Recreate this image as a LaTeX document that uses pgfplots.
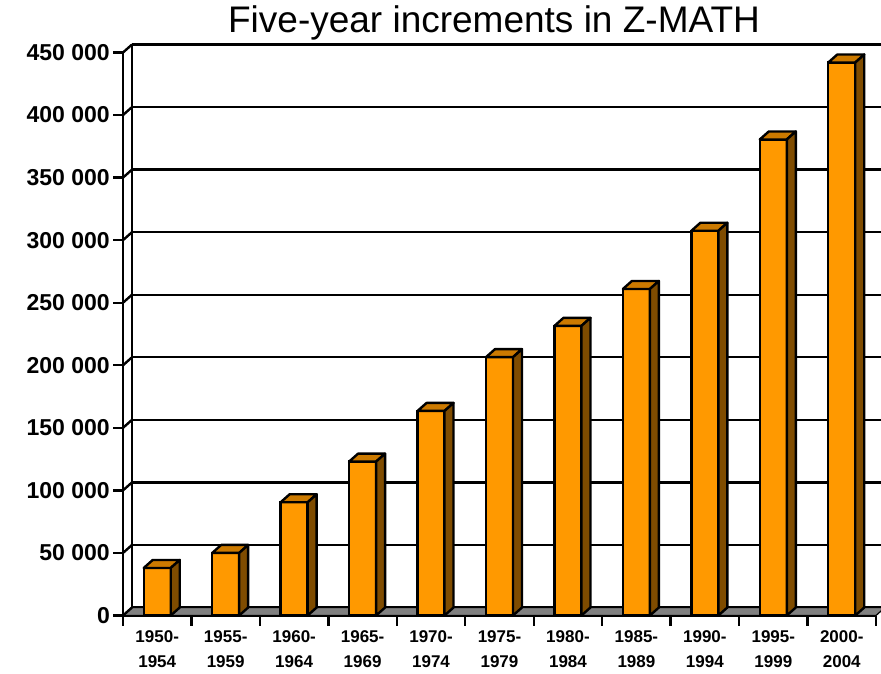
\documentclass[border=0pt]{standalone}
\usepackage{pgfplots}
\pgfplotsset{compat=1.18}
\usepackage{fontspec}
\setmainfont{Liberation Sans}
\definecolor{barfront}{HTML}{FF9900}
\definecolor{barside}{HTML}{7F4C00}
\definecolor{bartop}{HTML}{CC7A00}
\definecolor{floorgray}{HTML}{808080}

\pgfplotstableread{
x v
0.5 38000
1.5 50000
2.5 90500
3.5 123000
4.5 163500
5.5 206500
6.5 231500
7.5 261000
8.5 307500
9.5 380500
10.5 442000
}\datatable

% 3D top and side faces, drawn at each data point
\pgfdeclareplotmark{bar3d}{%
  \pgfmathsetmacro\hpt{\pgfplotspointmetatransformed*0.563}%
  \pgfsetlinewidth{2.4pt}%
  \pgfsetstrokecolor{black}%
  \pgfsetroundjoin
  % top face
  \pgfsetfillcolor{bartop}%
  \pgfpathmoveto{\pgfpoint{-13.5pt}{0pt}}%
  \pgfpathlineto{\pgfpoint{13.5pt}{0pt}}%
  \pgfpathlineto{\pgfpoint{22.5pt}{8pt}}%
  \pgfpathlineto{\pgfpoint{-4.5pt}{8pt}}%
  \pgfpathclose
  \pgfusepath{fill,stroke}%
  % side face
  \pgfsetfillcolor{barside}%
  \pgfpathmoveto{\pgfpoint{13.5pt}{0pt}}%
  \pgfpathlineto{\pgfpoint{22.5pt}{8pt}}%
  \pgfpathlineto{\pgfpoint{22.5pt}{8pt-\hpt pt}}%
  \pgfpathlineto{\pgfpoint{13.5pt}{-\hpt pt}}%
  \pgfpathclose
  \pgfusepath{fill,stroke}%
}

\begin{document}
\begin{tikzpicture}
\path[use as bounding box] (0,0) rectangle (881pt,673pt);
\begin{axis}[
  at={(123pt,57.5pt)}, anchor=south west,
  scale only axis, width=753pt, height=563pt,
  xmin=0, xmax=11, ymin=0, ymax=450000,
  clip=false,
  axis x line=bottom, axis y line=left,
  axis line style={black, line width=2.4pt, -},
  tick align=outside, major tick length=10pt,
  tick style={black, line width=2.4pt},
  xtick={0,...,11},
  x tick label as interval,
  xticklabels={{1950-\\1954},{1955-\\1959},{1960-\\1964},{1965-\\1969},{1970-\\1974},{1975-\\1979},{1980-\\1984},{1985-\\1989},{1990-\\1994},{1995-\\1999},{2000-\\2004},{}},
  xticklabel style={align=center, font=\fontsize{17}{25}\selectfont\bfseries, yshift=-4pt, inner sep=1pt},
  ytick={0,50000,100000,150000,200000,250000,300000,350000,400000,450000},
  yticklabels={0,50 000,100 000,150 000,200 000,250 000,300 000,350 000,400 000,450 000},
  yticklabel style={font=\fontsize{23}{27}\selectfont\bfseries, inner sep=2pt, xshift=-1pt},
  scaled y ticks=false,
  ymajorgrids,
  major grid style={black, line width=2.4pt, xshift=9pt, yshift=8pt},
  title={Five-year increments in Z-MATH},
  title style={font=\fontsize{37}{40}\selectfont, anchor=base, at={(axis description cs:0.4927,1.0243)}, inner sep=0pt},
]
% floor
\filldraw[fill=floorgray, draw=black, line width=1.2pt] (axis cs:0,0) -- (axis cs:11,0) -- ++(9pt,8pt) -- ([shift={(9pt,8pt)}]axis cs:0,0) -- cycle;
% left side wall
\draw[black, line width=2.4pt] ([shift={(9pt,8pt)}]axis cs:0,0) -- ([shift={(9pt,8pt)}]axis cs:0,450000);
\pgfplotsinvokeforeach{0,50000,100000,150000,200000,250000,300000,350000,400000,450000}{
  \draw[black, line width=2.4pt] (axis cs:0,#1) -- ++(9pt,8pt);
}
% front faces
\addplot[ybar, bar width=27pt, fill=barfront, draw=black, line width=2.4pt] table[x=x, y=v] {\datatable};
% top and side faces
\addplot[only marks, mark=bar3d, scatter,
  point meta=y, point meta min=0, point meta max=450000,
  scatter/@pre marker code/.code={}, scatter/@post marker code/.code={}] table[x=x, y=v] {\datatable};
\end{axis}
\end{tikzpicture}
\end{document}
